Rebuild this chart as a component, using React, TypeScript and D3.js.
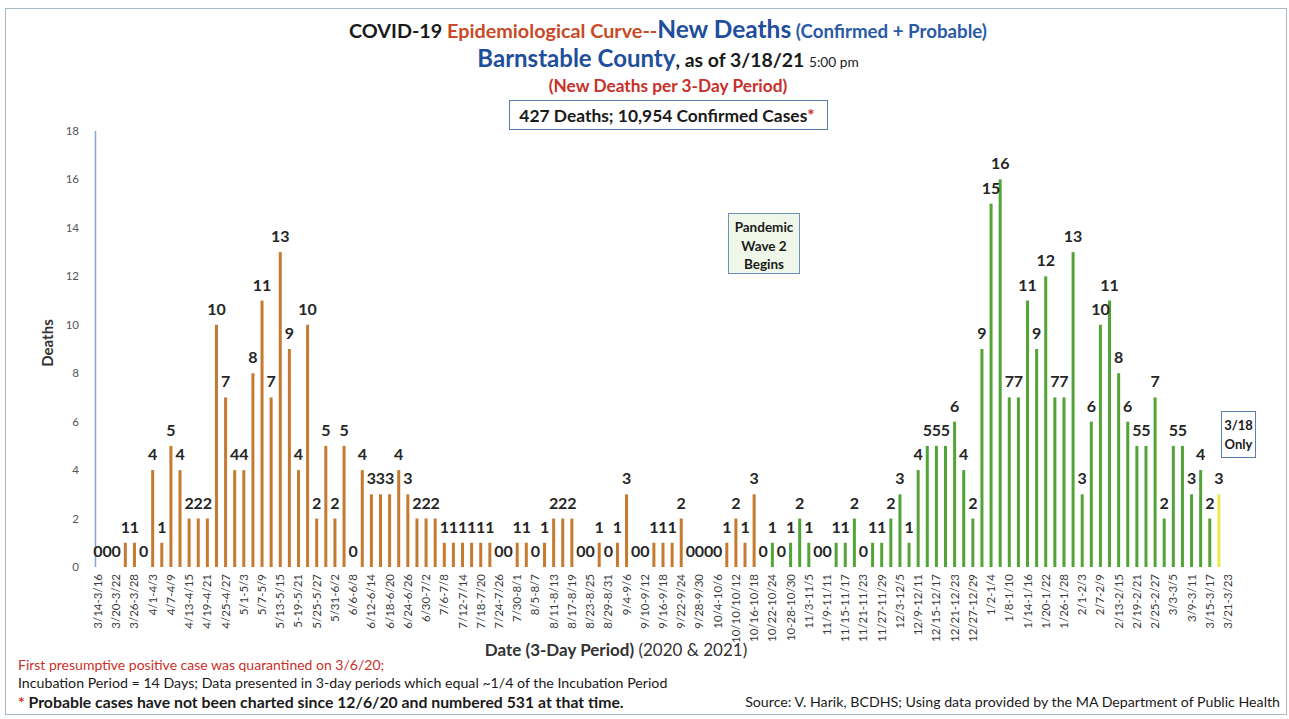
import React from "react";
import * as d3 from "d3";

// New deaths per 3-day period, 3/14/20 .. 3/18/21 (last bar = 3/18 only)
const deaths: number[] = [
  0, 0, 0, 1, 1, 0, 4, 1, 5, 4,
  2, 2, 2, 10, 7, 4, 4, 8, 11, 7,
  13, 9, 4, 10, 2, 5, 2, 5, 0, 4,
  3, 3, 3, 4, 3, 2, 2, 2, 1, 1,
  1, 1, 1, 1, 0, 0, 1, 1, 0, 1,
  2, 2, 2, 0, 0, 1, 0, 1, 3, 0,
  0, 1, 1, 1, 2, 0, 0, 0, 0, 1,
  2, 1, 3, 0, 1, 0, 1, 2, 1, 0,
  0, 1, 1, 2, 0, 1, 1, 2, 3, 1,
  4, 5, 5, 5, 6, 4, 2, 9, 15, 16,
  7, 7, 11, 9, 12, 7, 7, 13, 3, 6,
  10, 11, 8, 6, 5, 5, 7, 2, 5, 5,
  3, 4, 2, 3,
];

// Tick labels shown on every other 3-day period
const tickLabels: string[] = [
  "3/14-3/16", "3/20-3/22", "3/26-3/28", "4/1-4/3", "4/7-4/9", "4/13-4/15",
  "4/19-4/21", "4/25-4/27", "5/1-5/3", "5/7-5/9", "5/13-5/15", "5-19-5/21",
  "5/25-5/27", "5/31-6/2", "6/6-6/8", "6/12-6/14", "6/18-6/20", "6/24-6/26",
  "6/30-7/2", "7/6-7/8", "7/12-7/14", "7/18-7/20", "7/24-7/26", "7/30-8/1",
  "8/5-8/7", "8/11-8/13", "8/17-8/19", "8/23-8/25", "8/29-8/31", "9/4-9/6",
  "9/10-9/12", "9/16-9/18", "9/22-9/24", "9/28-9/30", "10/4-10/6", "10/10/10/12",
  "10/16-10/18", "10/22-10/24", "10-28-10/30", "11/3-11/5", "11/9-11/11",
  "11/15-11/17", "11/21-11/23", "11/27-11/29", "12/3-12/5", "12/9-12/11",
  "12/15-12/17", "12/21-12/23", "12/27-12/29", "1/2-1/4", "1/8-1/10",
  "1/14-1/16", "1/20-1/22", "1/26-1/28", "2/1-2/3", "2/7-2/9", "2/13-2/15",
  "2/19-2/21", "2/25-2/27", "3/3-3/5", "3/9-3/11", "3/15-3/17", "3/21-3/23",
];

const yTicks: number[] = [0, 2, 4, 6, 8, 10, 12, 14, 16, 18];

const WAVE2_START = 73; // first period of pandemic wave 2 (green)
const PARTIAL_INDEX = 123; // 3/18 only

const W = 1289;
const H = 719;
const FONT = "Lato, 'Open Sans', sans-serif";

const ORANGE = "#c67a30";
const GREEN = "#52a436";
const YELLOW = "#ecea4a";

export default function App() {
  const nSlots = tickLabels.length * 2 - 1; // 125 slots
  const x = d3.scaleLinear().domain([0, nSlots - 1]).range([98, 1228]);
  const y = d3.scaleLinear().domain([0, 18]).range([567, 131]);
  const barW = 3;

  const colorFor = (i: number) =>
    i === PARTIAL_INDEX ? YELLOW : i >= WAVE2_START ? GREEN : ORANGE;

  return (
    <svg
      width={W}
      height={H}
      style={{ position: "absolute", left: 0, top: 0, background: "#fff" }}
      fontFamily={FONT}
    >
      <rect x={0} y={0} width={W} height={H} fill="#fff" />
      <rect x={5.5} y={8.5} width={1281} height={706} fill="none" stroke="#a9b8c8" strokeWidth={1} />

      {/* Titles */}
      <text x={668} y={38} textAnchor="middle" fontWeight="bold">
        <tspan fill="#1a1a1a" fontSize={19.8}>COVID-19 </tspan>
        <tspan fill="#c84a26" fontSize={19.8}>Epidemiological Curve--</tspan>
        <tspan fill="#1f4f9c" fontSize={24.5}>New Deaths</tspan>
        <tspan fill="#2a5aa6" fontSize={18.7}> (Confirmed + Probable)</tspan>
      </text>
      <text x={668} y={67} textAnchor="middle" fontWeight="bold">
        <tspan fill="#1f4f9c" fontSize={24}>Barnstable County</tspan>
        <tspan fill="#1a1a1a" fontSize={19.4}>, as of 3/18/21 </tspan>
        <tspan fill="#1a1a1a" fontSize={13.7} fontWeight="normal">5:00 pm</tspan>
      </text>
      <text x={668} y={92} textAnchor="middle" fontWeight="bold" fill="#c8302a" fontSize={17.3}>
        (New Deaths per 3-Day Period)
      </text>
      <rect x={509.5} y={100.5} width={318} height={29} fill="#fff" stroke="#5a7fae" strokeWidth={1} />
      <text x={667} y={121.5} textAnchor="middle" fontWeight="bold" fontSize={17.4} fill="#1a1a1a">
        427 Deaths; 10,954 Confirmed Cases<tspan fill="#d0302a">*</tspan>
      </text>

      {/* Y axis */}
      <line x1={95.5} x2={95.5} y1={y(18)} y2={y(0)} stroke="#7ea8d8" strokeWidth={1.5} />
      {yTicks.map((t) => (
        <text key={t} x={79} y={y(t) + 4} textAnchor="end" fontSize={11.5} fill="#555">
          {t}
        </text>
      ))}
      <text
        transform={`translate(53,343) rotate(-90)`}
        textAnchor="middle"
        fontWeight="bold"
        fontSize={15}
        fill="#333"
      >
        Deaths
      </text>

      {/* Bars */}
      {deaths.map((v, i) =>
        v > 0 ? (
          <rect
            key={"b" + i}
            x={x(i) - barW / 2}
            y={y(v)}
            width={barW}
            height={y(0) - y(v)}
            fill={colorFor(i)}
          />
        ) : null
      )}
      {/* Data labels */}
      {deaths.map((v, i) => (
        <text
          key={"l" + i}
          x={x(i)}
          y={y(v) - 10}
          textAnchor="middle"
          fontWeight="bold"
          fontSize={16}
          fill="#262626"
        >
          {v}
        </text>
      ))}

      {/* X tick labels */}
      {tickLabels.map((lab, k) => (
        <text
          key={"t" + k}
          transform={`translate(${x(k * 2) + 4},574) rotate(-90)`}
          textAnchor="end"
          fontSize={11.5}
          fill="#3a3a3a"
        >
          {lab}
        </text>
      ))}
      <text x={616} y={656} textAnchor="middle" fontSize={17} fill="#333">
        <tspan fontWeight="bold">Date (3-Day Period)</tspan>
        <tspan> (2020 &amp; 2021)</tspan>
      </text>

      {/* Annotation boxes */}
      <rect x={728.5} y={213.5} width={71} height={60} fill="#eef7e8" stroke="#6f8fb8" strokeWidth={1} />
      <text textAnchor="middle" fontWeight="bold" fontSize={13.5} fill="#1a1a1a">
        <tspan x={764} y={232}>Pandemic</tspan>
        <tspan x={764} y={251}>Wave 2</tspan>
        <tspan x={764} y={269}>Begins</tspan>
      </text>
      <rect x={1221.5} y={411.5} width={34} height={46} fill="#fff" stroke="#5a7fae" strokeWidth={1} />
      <text textAnchor="middle" fontWeight="bold" fontSize={13} fill="#1a1a1a">
        <tspan x={1238.5} y={430}>3/18</tspan>
        <tspan x={1238.5} y={449}>Only</tspan>
      </text>

      {/* Footnotes */}
      <text x={18} y={670} fontSize={14} fill="#c8302a">
        First presumptive positive case was quarantined on 3/6/20;
      </text>
      <text x={18} y={688} fontSize={14.2} fill="#1a1a1a">
        Incubation Period = 14 Days; Data presented in 3-day periods which equal ~1/4 of the Incubation Period
      </text>
      <text x={18} y={708} fontSize={15.8} fontWeight="bold" fill="#1a1a1a">
        <tspan fill="#d0302a">*</tspan> Probable cases have not been charted since 12/6/20 and numbered 531 at that time.
      </text>
      <text x={1280} y={707} textAnchor="end" fontSize={14.2} fill="#1a1a1a">
        Source: V. Harik, BCDHS; Using data provided by the MA Department of Public Health
      </text>
    </svg>
  );
}
